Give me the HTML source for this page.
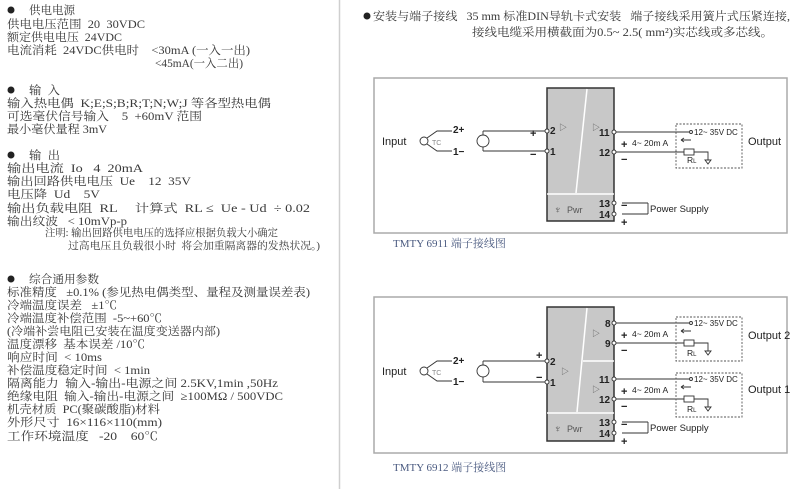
<!DOCTYPE html>
<html><head><meta charset="utf-8"><style>
html,body{margin:0;padding:0;background:#fff;width:800px;height:489px;overflow:hidden}
svg{display:block}
text{white-space:pre}
.t{font-family:"Liberation Serif","Noto Serif CJK SC",serif;font-size:11.5px;fill:#3a3a3a}
.d{font-family:"Liberation Sans","Noto Sans CJK SC",sans-serif;fill:#222}
.cap{font-family:"Liberation Serif","Noto Serif CJK SC",serif;font-size:11px;fill:#4a5a80}
</style></head><body>
<svg width="800" height="489" viewBox="0 0 800 489" xmlns="http://www.w3.org/2000/svg" xml:space="preserve">
<line x1="339.5" y1="0" x2="339.5" y2="489" stroke="#cfcfcf" stroke-width="1.5"/>
<g class="t">
<circle cx="11" cy="10" r="3.5" fill="#222"/>
<text x="29" y="14" textLength="46" lengthAdjust="spacingAndGlyphs">供电电源</text>
<text x="7" y="28" textLength="138" lengthAdjust="spacingAndGlyphs">供电电压范围  20  30VDC</text>
<text x="7" y="41" textLength="115" lengthAdjust="spacingAndGlyphs">额定供电电压  24VDC</text>
<text x="7" y="54" textLength="243" lengthAdjust="spacingAndGlyphs">电流消耗  24VDC供电时    &lt;30mA (一入一出)</text>
<text x="155" y="67" textLength="88" lengthAdjust="spacingAndGlyphs">&lt;45mA(一入二出)</text>
<circle cx="11" cy="90" r="3.5" fill="#222"/>
<text x="29" y="94" textLength="31" lengthAdjust="spacingAndGlyphs">输  入</text>
<text x="7" y="107" textLength="264" lengthAdjust="spacingAndGlyphs">输入热电偶  K;E;S;B;R;T;N;W;J 等各型热电偶</text>
<text x="7" y="120" textLength="195" lengthAdjust="spacingAndGlyphs">可选毫伏信号输入    5  +60mV 范围</text>
<text x="7" y="133" textLength="100" lengthAdjust="spacingAndGlyphs">最小毫伏量程 3mV</text>
<circle cx="11" cy="155" r="3.5" fill="#222"/>
<text x="29" y="159" textLength="31" lengthAdjust="spacingAndGlyphs">输  出</text>
<text x="7" y="172" textLength="136" lengthAdjust="spacingAndGlyphs">输出电流  Io   4  20mA</text>
<text x="7" y="185" textLength="184" lengthAdjust="spacingAndGlyphs">输出回路供电电压  Ue    12  35V</text>
<text x="7" y="198" textLength="93" lengthAdjust="spacingAndGlyphs">电压降  Ud    5V</text>
<text x="7" y="212" textLength="303" lengthAdjust="spacingAndGlyphs">输出负载电阻  RL     计算式  RL ≤  Ue - Ud  ÷ 0.02</text>
<text x="7" y="225" textLength="120" lengthAdjust="spacingAndGlyphs">输出纹波   &lt; 10mVp-p</text>
<text x="45" y="236" textLength="233" lengthAdjust="spacingAndGlyphs" font-size="10.5">注明: 输出回路供电电压的选择应根据负载大小确定</text>
<text x="68" y="249" textLength="252" lengthAdjust="spacingAndGlyphs" font-size="10.5">过高电压且负载很小时  将会加重隔离器的发热状况。)</text>
<circle cx="11" cy="279" r="3.5" fill="#222"/>
<text x="29" y="283" textLength="70" lengthAdjust="spacingAndGlyphs">综合通用参数</text>
<text x="7" y="296" textLength="303" lengthAdjust="spacingAndGlyphs">标准精度   ±0.1% (参见热电偶类型、量程及测量误差表)</text>
<text x="7" y="309" textLength="110" lengthAdjust="spacingAndGlyphs">冷端温度误差   ±1℃</text>
<text x="7" y="322" textLength="155" lengthAdjust="spacingAndGlyphs">冷端温度补偿范围  -5~+60℃</text>
<text x="7" y="335" textLength="213" lengthAdjust="spacingAndGlyphs">(冷端补尝电阻已安装在温度变送器内部)</text>
<text x="7" y="348" textLength="138" lengthAdjust="spacingAndGlyphs">温度漂移  基本误差 /10℃</text>
<text x="7" y="361" textLength="95" lengthAdjust="spacingAndGlyphs">响应时间  &lt; 10ms</text>
<text x="7" y="374" textLength="143" lengthAdjust="spacingAndGlyphs">补偿温度稳定时间  &lt; 1min</text>
<text x="7" y="387" textLength="271" lengthAdjust="spacingAndGlyphs">隔离能力  输入-输出-电源之间 2.5KV,1min ,50Hz</text>
<text x="7" y="400" textLength="276" lengthAdjust="spacingAndGlyphs">绝缘电阻  输入-输出-电源之间  ≥100MΩ / 500VDC</text>
<text x="7" y="413" textLength="153" lengthAdjust="spacingAndGlyphs">机壳材质  PC(聚碳酸脂)材料</text>
<text x="7" y="426" textLength="155" lengthAdjust="spacingAndGlyphs">外形尺寸  16×116×110(mm)</text>
<text x="7" y="440" textLength="151" lengthAdjust="spacingAndGlyphs">工作环境温度   -20    60℃</text>
<circle cx="367" cy="16" r="3.5" fill="#222"/>
<text x="373" y="20" textLength="417" lengthAdjust="spacingAndGlyphs">安装与端子接线   35 mm 标准DIN导轨卡式安装   端子接线采用簧片式压紧连接,</text>
<text x="472" y="36" textLength="301" lengthAdjust="spacingAndGlyphs">接线电缆采用横截面为0.5~ 2.5( mm²)实芯线或多芯线。</text>
</g>

<!-- Diagram 1 -->
<rect x="374" y="78" width="413" height="155" fill="none" stroke="#aaa" stroke-width="1.5"/>
<rect x="547" y="88" width="67" height="133" fill="#c8c8c8" stroke="#333" stroke-width="1.5"/>
<line x1="547" y1="194" x2="614" y2="194" stroke="#fff" stroke-width="1.5"/>
<line x1="587" y1="89" x2="576" y2="193" stroke="#fff" stroke-width="1.5"/>
<g class="d" font-size="10" font-weight="bold">
<text x="382" y="145" font-weight="normal" font-size="11">Input</text>
<text x="453" y="133">2+</text><text x="453" y="155">1−</text>
<text x="550" y="134">2</text><text x="550" y="155">1</text>
<text x="599" y="136">11</text><text x="599" y="156">12</text>
<text x="599" y="207">13</text><text x="599" y="218">14</text>
<text x="530" y="137" font-size="11">+</text><text x="530" y="158" font-size="11">−</text>
<text x="621" y="148" font-size="11">+</text><text x="621" y="163" font-size="11">−</text>
<text x="621" y="209" font-size="11">−</text><text x="621" y="226" font-size="11">+</text>
</g>
<g class="d" font-size="8.5">
<text x="632" y="146">4~ 20m A</text>
<text x="694" y="135" font-size="8">12~ 35V DC</text>
<text x="687" y="163">R<tspan font-size="6">L</tspan></text>
<text x="650" y="212" font-size="9.5">Power Supply</text>
<text x="748" y="145" font-size="11">Output</text>
<text x="432" y="145" font-size="7" fill="#888">TC</text>
<text x="478.5" y="143.5" font-size="5">mV</text>
<text x="567" y="213" font-size="9" fill="#555">Pwr</text>
<text x="554" y="213" font-size="10" fill="#555">♆</text>
<text x="559" y="130" font-size="8" fill="#555">▷</text>
<text x="592" y="130" font-size="8" fill="#555">▷</text>
</g>
<g fill="none" stroke="#333" stroke-width="0.9">
<circle cx="424" cy="141" r="4"/>
<path d="M427 138 L437 131 L452 131 M427 144 L437 151 L452 151"/>
<path d="M483 131 H545 M483 151 H545 M483 131 V151"/>
<circle cx="483" cy="141" r="6" fill="#fff"/>
<circle cx="547" cy="131" r="2" fill="#fff"/><circle cx="547" cy="151" r="2" fill="#fff"/>
<path d="M616 132 H689 M616 152 H684 M622 203 H648 M622 214 H648 M648 203 V214"/>
<circle cx="614" cy="132" r="2" fill="#fff"/><circle cx="614" cy="152" r="2" fill="#fff"/>
<circle cx="614" cy="203" r="2" fill="#fff"/><circle cx="614" cy="214" r="2" fill="#fff"/>
<circle cx="691" cy="132" r="1.5" fill="#fff"/>
<rect x="684" y="149" width="10" height="6" fill="#fff"/>
<path d="M694 152 H708 V160 M705 160 H711 L708 164 Z"/>
<path d="M681 140 H691 M681 140 L684 138 M681 140 L684 142"/>
<rect x="676" y="124" width="66" height="44" stroke-dasharray="2,1.5" stroke="#555"/>
</g>
<text class="cap" x="393" y="247">TMTY 6911 端子接线图</text>

<!-- Diagram 2 -->
<rect x="374" y="297" width="413" height="156" fill="none" stroke="#aaa" stroke-width="1.5"/>
<rect x="547" y="307" width="67" height="134" fill="#c8c8c8" stroke="#333" stroke-width="1.5"/>
<line x1="547" y1="413" x2="614" y2="413" stroke="#fff" stroke-width="1.5"/>
<line x1="587" y1="308" x2="577" y2="412" stroke="#fff" stroke-width="1.5"/>
<line x1="583" y1="361" x2="614" y2="361" stroke="#fff" stroke-width="1.5"/>
<g class="d" font-size="10" font-weight="bold">
<text x="382" y="375" font-weight="normal" font-size="11">Input</text>
<text x="453" y="364">2+</text><text x="453" y="385">1−</text>
<text x="550" y="365">2</text><text x="550" y="386">1</text>
<text x="605" y="327">8</text><text x="605" y="347">9</text>
<text x="599" y="383">11</text><text x="599" y="403">12</text>
<text x="599" y="426">13</text><text x="599" y="437">14</text>
<text x="536" y="359" font-size="11">+</text><text x="536" y="381" font-size="11">−</text>
<text x="621" y="339" font-size="11">+</text><text x="621" y="354" font-size="11">−</text>
<text x="621" y="395" font-size="11">+</text><text x="621" y="410" font-size="11">−</text>
<text x="621" y="428" font-size="11">−</text><text x="621" y="445" font-size="11">+</text>
</g>
<g class="d" font-size="8.5">
<text x="632" y="337">4~ 20m A</text>
<text x="632" y="393">4~ 20m A</text>
<text x="694" y="326" font-size="8">12~ 35V DC</text>
<text x="694" y="382" font-size="8">12~ 35V DC</text>
<text x="687" y="356">R<tspan font-size="6">L</tspan></text>
<text x="687" y="412">R<tspan font-size="6">L</tspan></text>
<text x="650" y="431" font-size="9.5">Power Supply</text>
<text x="748" y="339" font-size="11">Output 2</text>
<text x="748" y="393" font-size="11">Output 1</text>
<text x="432" y="375" font-size="7" fill="#888">TC</text>
<text x="478.5" y="373.5" font-size="5">mV</text>
<text x="567" y="432" font-size="9" fill="#555">Pwr</text>
<text x="554" y="432" font-size="10" fill="#555">♆</text>
<text x="561" y="374" font-size="8" fill="#555">▷</text>
<text x="592" y="336" font-size="8" fill="#555">▷</text>
<text x="592" y="392" font-size="8" fill="#555">▷</text>
</g>
<g fill="none" stroke="#333" stroke-width="0.9">
<circle cx="424" cy="371" r="4"/>
<path d="M427 368 L437 361 L452 361 M427 374 L437 381 L452 381"/>
<path d="M483 361 H545 M483 382 H545 M483 361 V382"/>
<circle cx="483" cy="371" r="6" fill="#fff"/>
<circle cx="547" cy="361" r="2" fill="#fff"/><circle cx="547" cy="382" r="2" fill="#fff"/>
<path d="M616 323 H689 M616 343 H684 M616 379 H689 M616 399 H684 M622 422 H648 M622 433 H648 M648 422 V433"/>
<circle cx="614" cy="323" r="2" fill="#fff"/><circle cx="614" cy="343" r="2" fill="#fff"/>
<circle cx="614" cy="379" r="2" fill="#fff"/><circle cx="614" cy="399" r="2" fill="#fff"/>
<circle cx="614" cy="422" r="2" fill="#fff"/><circle cx="614" cy="433" r="2" fill="#fff"/>
<circle cx="691" cy="323" r="1.5" fill="#fff"/><circle cx="691" cy="379" r="1.5" fill="#fff"/>
<rect x="684" y="340" width="10" height="6" fill="#fff"/>
<rect x="684" y="396" width="10" height="6" fill="#fff"/>
<path d="M694 343 H708 V351 M705 351 H711 L708 355 Z"/>
<path d="M694 399 H708 V407 M705 407 H711 L708 411 Z"/>
<path d="M681 331 H691 M681 331 L684 329 M681 331 L684 333 M681 387 H691 M681 387 L684 385 M681 387 L684 389"/>
<rect x="676" y="317" width="66" height="44" stroke-dasharray="2,1.5" stroke="#555"/>
<rect x="676" y="373" width="66" height="44" stroke-dasharray="2,1.5" stroke="#555"/>
</g>
<text class="cap" x="393" y="471">TMTY 6912 端子接线图</text>
</svg>
</body></html>
